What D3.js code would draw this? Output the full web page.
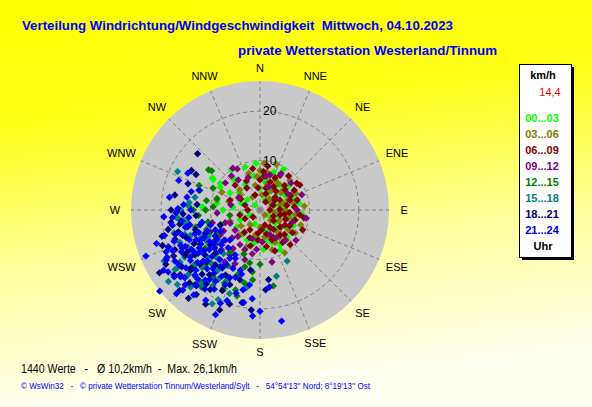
<!DOCTYPE html>
<html>
<head>
<meta charset="utf-8">
<script src="https://cdn.jsdelivr.net/npm/d3@7"></script>
<style>
  html, body { margin: 0; padding: 0; overflow: hidden; }
  svg { display: block; font-family: Arial, "Liberation Sans", sans-serif; }
</style>
</head>
<body>
<div id="chart"></div>
<script>
// Beschriftungen
const titel1 = 'Verteilung Windrichtung/Windgeschwindigkeit  Mittwoch, 04.10.2023';
const titel2 = 'private Wetterstation Westerland/Tinnum';
const fusszeile1 = '1440 Werte   -   Ø 10,2km/h  -  Max. 26,1km/h';
const fusszeile2 = "© WsWin32   -   © private Wetterstation Tinnum/Westerland/Sylt   -   54°54'13'' Nord; 8°19'13'' Ost";

const richtungen = ['N', 'NNE', 'NE', 'ENE', 'E', 'ESE', 'SE', 'SSE', 'S', 'SSW', 'SW', 'WSW', 'W', 'WNW', 'NW', 'NNW'];
const ringWerte = [10, 20];
const maxGeschw = 26.1;
const aktuell = '14,4';
const zeitKlassen = ['00...03', '03...06', '06...09', '09...12', '12...15', '15...18', '18...21', '21...24'];
const farben = ['#00ff00', '#808000', '#800000', '#800080', '#008000', '#008080', '#000080', '#0000ff'];

// Messwerte je Zeitklasse: [Richtung in Grad, Geschwindigkeit km/h]
const werte0003 = [[355,9.5],[341,9.2],[303,11.3],[304,9.7],[39,6.5],[0,4.4],[45,4.9],[102,6.8],[124,6.6],[171,4.1],[186,5.5],[276,5.5],[234,5.8],[270,7.5],[308,3.3],[300,7.0],[125,2.5],[203,6.6],[150,8.1],[153,9.0],[167,6.2],[279,8.8],[34,6.2],[96,5.7],[304,11.6],[300,9.3],[273,11.7],[315,1.4],[27,2.3],[243,2.3],[72,3.2],[59,5.9],[243,4.5],[153,4.5],[20,8.2],[80,8.0],[110,4.0],[140,5.0],[330,6.0],[10,5.8],[60,3.5],[200,3.0],[135,7.8],[290,4.0],[320,8.0],
  [350,7.0],[5,7.0],[25,4.0],[50,7.5],[85,4.5],[115,7.5],[130,4.0],[160,7.0],[175,8.0],[190,6.8],[215,6.0],[260,4.0],[285,6.5],[310,5.5],[325,10.0],[30,9.5],[70,7.0],[95,8.5]];
const werte0306 = [[63,7.5],[10,7.8],[139,8.0],[12,6.8],[343,7.8],[76,4.2],[117,6.8],[123,8.5],[140,7.9],[142,5.6],[151,4.2],[307,5.0],[349,5.1],[27,6.8],[90,5.1],[135,1.4],[214,3.6],[8,3.1],[98,7.2],[283,9.0],[295,8.5],[219,6.5],[163,8.4],[45,8.5],[70,6.0],[100,3.0],[160,6.0],[180,3.5],[30,4.5],[330,3.0],[110,8.8],[130,5.5],[55,2.5],[250,6.5],[85,9.0],[150,10.0],[20,9.8],[5,9.5],
  [35,6.5],[50,5.5],[65,8.0],[80,7.0],[95,4.0],[105,6.0],[120,4.5],[135,3.0],[145,6.8],[155,7.2],[170,5.5],[190,5.0],[15,5.5],[0,8.0],[40,3.0],[75,5.0],[125,7.0],[315,5.8],[285,6.5],[230,5.0],[200,8.0],[355,6.8]];
const werte0609 = [[54,9.2],[7,6.9],[51,6.5],[56,3.6],[72,6.4],[104,4.2],[106,7.4],[90,2.0],[342,3.2],[288,3.2],[162,3.2],[141,6.5],[139,9.3],[207,4.5],[256,4.2],[288,6.4],[0,6.1],[30,8.1],[97,8.1],[121,5.9],[158,6.5],[184,6.1],[315,7.1],[329,5.2],[130,5.3],[154,6.1],[185,4.7],[63,4.5],[40,5.0],[80,5.5],[115,3.0],[20,3.5],[45,7.0],[95,6.0],[125,8.0],[170,7.5],[60,8.0],[35,2.0],[150,4.0],[75,7.8],[110,5.5],[10,9.0],[350,8.5],[225,2.0],[270,2.5],
  [20,6.0],[50,4.0],[65,6.8],[85,7.0],[100,5.0],[118,6.8],[135,7.0],[145,4.8],[165,5.0],[175,4.0],[30,5.5],[15,4.6],[70,2.8],[88,4.0],[128,3.5],[200,6.0],[195,7.5],[215,5.5],[240,3.5],[300,4.5],[335,6.5],[355,4.5],[25,7.2],[58,9.5],[100,9.0],[115,9.5],[145,8.0],[160,8.8],[40,9.0],[5,7.8]];
const werte0912 = [[49,8.3],[331,9.5],[167,10.8],[16,7.4],[308,8.9],[327,10.1],[324,7.5],[158,5.4],[176,6.5],[266,8.7],[246,6.6],[231,6.5],[229,9.3],[201,8.6],[232,11.5],[236,10.9],[224,11.2],[214,10.9],[214,12.7],[210,8.1],[197,10.5],[246,11.0],[100,9.5],[70,9.0],[280,6.0],[300,5.0],[20,5.0],[130,9.5],[220,7.0],[240,8.5],[205,12.0],[190,9.0],[255,10.0],
  [30,8.5],[60,6.5],[90,7.5],[110,7.0],[140,8.0],[150,6.5],[185,8.0],[195,6.0],[215,9.5],[225,8.0],[238,9.5],[250,7.5],[340,7.0],[10,7.0],[320,9.0]];
const werte1215 = [[308,13.2],[309,12.6],[292,13.3],[186,14.2],[192,15.1],[197,16.9],[187,12.6],[170,15.6],[257,15.1],[264,16.6],[261,15.9],[220,18.9],[217,19.6],[195,11.9],[199,13.8],[206,15.0],[206,16.4],[191,10.9],[274,9.5],[270,13.5],[288,12.8],[257,10.8],[260,6.2],[230,12.0],[240,14.0],[250,11.5],[225,15.5],[210,13.0],[245,17.5],[235,16.0],[180,11.0],[200,9.5],[280,11.0],[265,12.5],[215,10.5],
  [225,12.5],[235,13.5],[245,11.5],[255,13.5],[215,16.5],[205,17.5],[195,18.0],[230,17.5],[240,10.0],[250,8.5],[285,9.0],[295,10.5],[270,11.0],[220,14.5]];
const werte1518 = [[295,18.4],[276,14.4],[281,13.4],[207,21.3],[166,13.8],[152,11.7],[222,21.0],[224,18.8],[260,14.8],[235,20.3],[237,19.3],[243,16.4],[228,14.3],[243,11.8],[244,13.9],[214,13.8],[224,13.1],[211,16.4],[235,21.0],[223,14.6],[273,14.4],[250,15.0],[230,17.0],[218,19.0],[255,18.0],[240,12.5],[232,10.5],[205,15.5],[265,17.0],[248,20.0],[220,11.5],[200,18.0],[258,12.0],[228,22.5],[190,16.0],
  [215,15.0],[225,16.5],[235,14.5],[245,13.0],[252,16.0],[238,18.0],[228,19.5],[212,18.0],[220,13.0],[248,17.5],[262,15.5],[270,16.0],[242,22.0],[232,23.5],[205,20.0]];
const werte1821 = [[312,17.0],[299,14.8],[255,20.5],[202,21.8],[191,19.1],[185,20.3],[173,14.2],[217,21.4],[267,15.6],[245,19.0],[239,17.7],[229,18.6],[228,16.4],[231,20.8],[221,20.0],[218,16.6],[231,14.4],[219,14.3],[251,18.2],[235,12.3],[208,14.9],[202,16.3],[196,14.7],[189,12.3],[176,16.2],[249,8.6],[253,13.7],[269,16.8],[255,17.1],[275,12.8],[240,22.0],[225,23.0],[243,15.0],[260,16.5],[234,19.5],[212,19.0],[247,12.0],[226,12.5],[238,24.0],[258,19.0],[222,17.5],[210,22.0],[240,17.0],[265,13.0],
  [242,19.8],[236,16.0],[230,18.2],[224,20.5],[216,18.5],[250,21.0],[257,15.0],[262,18.2],[233,21.8],[219,23.0],[244,17.5],[205,18.0],[198,20.0],[213,14.0],[226,15.0],[250,16.0],[270,18.0],[280,17.5],[290,15.5],[300,16.0]];
const werte2124 = [[248,24.9],[231,26.1],[203,23.0],[169,22.9],[173,15.7],[266,19.5],[265,17.8],[243,21.1],[236,22.4],[297,16.4],[271,16.6],[288,13.0],[285,14.4],[225,23.9],[257,15.5],[243,13.5],[219,12.9],[216,17.4],[234,17.4],[225,8.6],[198,12.8],[246,17.6],[256,12.5],[246,9.9],[205,16.7],[225,18.6],[225,21.4],[239,20.1],[209,10.4],[188,15.3],[211,21.3],[230,12.0],[238,14.5],[250,14.0],[228,15.5],[215,14.0],[240,16.0],[232,19.0],[222,16.0],[245,19.5],[252,16.5],[236,10.5],[212,11.5],[200,14.5],[220,20.0],[248,11.5],[234,14.0],[226,13.5],[242,18.0],[258,14.5],[230,16.5],[218,18.0],[244,12.5],[210,15.5],[236,17.0],[228,20.5],[250,18.5],[262,16.0],[220,10.0],[240,10.5],[215,19.5],[232,22.0],[247,15.5],[224,11.5],[238,12.0],[205,13.0],[255,20.0],[230,9.5],[242,21.5],[212,17.0],[253,10.5],[227,17.8],[235,15.2],[245,14.2],[219,15.2],[260,18.0],[196,17.5],[270,14.0],[280,15.0],[290,17.5],
  [232,13.0],[238,15.8],[244,16.8],[250,13.2],[226,14.8],[222,18.8],[216,15.8],[210,18.5],[204,15.0],[200,19.5],[196,13.5],[192,16.5],[236,19.8],[240,13.8],[246,20.8],[254,17.8],[258,12.0],[264,14.5],[268,17.0],[274,15.5],[278,18.5],[230,21.0],[224,22.5],[218,21.8],[234,11.5],[228,10.5],[242,9.0],[248,20.0],[252,22.0],[238,23.0],[212,13.0],[207,11.0],[203,20.5],[185,18.0],[180,20.5],[184,21.5],[190,19.0]];

const serien = [werte0003, werte0306, werte0609, werte0912, werte1215, werte1518, werte1821, werte2124];

// Aufbau
const breite = 592, hoehe = 407;
const mitte = { x: 260, y: 210 };
const radius = 129;
const grad = Math.PI / 180;

const svg = d3.select('#chart')
  .append('svg')
  .attr('width', breite)
  .attr('height', hoehe);

const verlauf = svg.append('defs').append('linearGradient')
  .attr('id', 'hintergrund')
  .attr('x1', 0).attr('y1', 0).attr('x2', 0.15).attr('y2', 1);
verlauf.append('stop').attr('offset', '0%').attr('stop-color', '#ffff00');
verlauf.append('stop').attr('offset', '30%').attr('stop-color', '#ffff18');
verlauf.append('stop').attr('offset', '65%').attr('stop-color', '#ffff9c');
verlauf.append('stop').attr('offset', '100%').attr('stop-color', '#fffff2');

svg.append('rect')
  .attr('width', breite)
  .attr('height', hoehe)
  .attr('fill', 'url(#hintergrund)');

// Titel
svg.append('text')
  .attr('x', 22).attr('y', 30)
  .attr('textLength', 431).attr('lengthAdjust', 'spacingAndGlyphs')
  .style('white-space', 'pre')
  .style('font-size', '13px').style('font-weight', 'bold')
  .attr('fill', '#0000ff')
  .text(titel1);

svg.append('text')
  .attr('x', 238).attr('y', 55)
  .attr('textLength', 259).attr('lengthAdjust', 'spacingAndGlyphs')
  .style('font-size', '13px').style('font-weight', 'bold')
  .attr('fill', '#0000ff')
  .text(titel2);

// Polardiagramm
const skalaR = d3.scaleLinear().domain([0, maxGeschw]).range([0, radius]);
const skalaW = d3.scalePoint().domain(richtungen).range([0, 360 - 22.5]);

const polar = svg.append('g')
  .attr('transform', `translate(${mitte.x}, ${mitte.y})`);

polar.append('circle')
  .attr('r', radius)
  .attr('fill', '#c9c9c9');

polar.selectAll('.ring')
  .data(ringWerte)
  .enter()
  .append('circle')
  .attr('class', 'ring')
  .attr('r', d => skalaR(d))
  .attr('fill', 'none')
  .attr('stroke', '#808080')
  .attr('stroke-dasharray', '4,3');

polar.selectAll('.speiche')
  .data(richtungen)
  .enter()
  .append('line')
  .attr('class', 'speiche')
  .attr('x1', 0).attr('y1', 0)
  .attr('x2', d => d3.pointRadial(skalaW(d) * grad, radius)[0])
  .attr('y2', d => d3.pointRadial(skalaW(d) * grad, radius)[1])
  .attr('stroke', '#808080')
  .attr('stroke-dasharray', '4,3');

// Messpunkte (chronologisch)
const raute = d3.symbol().type(d3.symbolSquare).size(27);
serien.forEach((serie, i) => {
  polar.append('g')
    .selectAll('path')
    .data(serie)
    .enter()
    .append('path')
    .attr('d', raute)
    .attr('transform', d => {
      const p = d3.pointRadial(d[0] * grad, skalaR(d[1]));
      return `translate(${p[0]}, ${p[1]}) rotate(45)`;
    })
    .attr('fill', farben[i]);
});

polar.selectAll('.ringtext')
  .data(ringWerte)
  .enter()
  .append('text')
  .attr('class', 'ringtext')
  .attr('x', 3)
  .attr('y', d => -skalaR(d))
  .attr('dy', '0.35em')
  .style('font-size', '12px')
  .text(d => d);

polar.selectAll('.richtung')
  .data(richtungen)
  .enter()
  .append('text')
  .attr('class', 'richtung')
  .attr('text-anchor', 'middle')
  .attr('dy', '0.36em')
  .style('font-size', '11px')
  .text(d => d)
  .each(function(d) {
    const halb = this.getComputedTextLength() / 2;
    const a = skalaW(d) * grad;
    const p = d3.pointRadial(a, 142 + 0.6 * halb * Math.abs(Math.sin(a)));
    d3.select(this).attr('x', p[0]).attr('y', p[1]);
  });

// Legende
const leg = { x: 519, y: 64, b: 52, h: 193 };
svg.append('rect')
  .attr('x', leg.x + 3).attr('y', leg.y + 3)
  .attr('width', leg.b).attr('height', leg.h)
  .attr('fill', '#000');
svg.append('rect')
  .attr('x', leg.x + 0.5).attr('y', leg.y + 0.5)
  .attr('width', leg.b).attr('height', leg.h)
  .attr('fill', '#fff')
  .attr('stroke', '#000');

svg.append('text')
  .attr('x', 543).attr('y', 79)
  .attr('text-anchor', 'middle')
  .style('font-size', '11px').style('font-weight', 'bold')
  .text('km/h');

svg.append('text')
  .attr('x', 550).attr('y', 96)
  .attr('text-anchor', 'middle')
  .style('font-size', '11px')
  .attr('fill', '#ff0000')
  .text(aktuell);

const skalaLeg = d3.scaleBand().domain(zeitKlassen).range([110, 238]);
svg.selectAll('.klasse')
  .data(zeitKlassen)
  .enter()
  .append('text')
  .attr('class', 'klasse')
  .attr('x', 542)
  .attr('y', d => skalaLeg(d) + skalaLeg.bandwidth() / 2)
  .attr('dy', '0.36em')
  .attr('text-anchor', 'middle')
  .style('font-size', '11px').style('font-weight', 'bold')
  .attr('fill', (d, i) => farben[i])
  .text(d => d);

svg.append('text')
  .attr('x', 543).attr('y', 250)
  .attr('text-anchor', 'middle')
  .style('font-size', '11px').style('font-weight', 'bold')
  .text('Uhr');

// Fusszeilen
svg.append('text')
  .attr('x', 21).attr('y', 373)
  .attr('textLength', 216).attr('lengthAdjust', 'spacingAndGlyphs')
  .style('white-space', 'pre')
  .style('font-size', '12px')
  .text(fusszeile1);

svg.append('text')
  .attr('x', 21).attr('y', 389)
  .attr('textLength', 349).attr('lengthAdjust', 'spacingAndGlyphs')
  .style('white-space', 'pre')
  .style('font-size', '9px')
  .attr('fill', '#0000ff')
  .text(fusszeile2);
</script>
</body>
</html>
